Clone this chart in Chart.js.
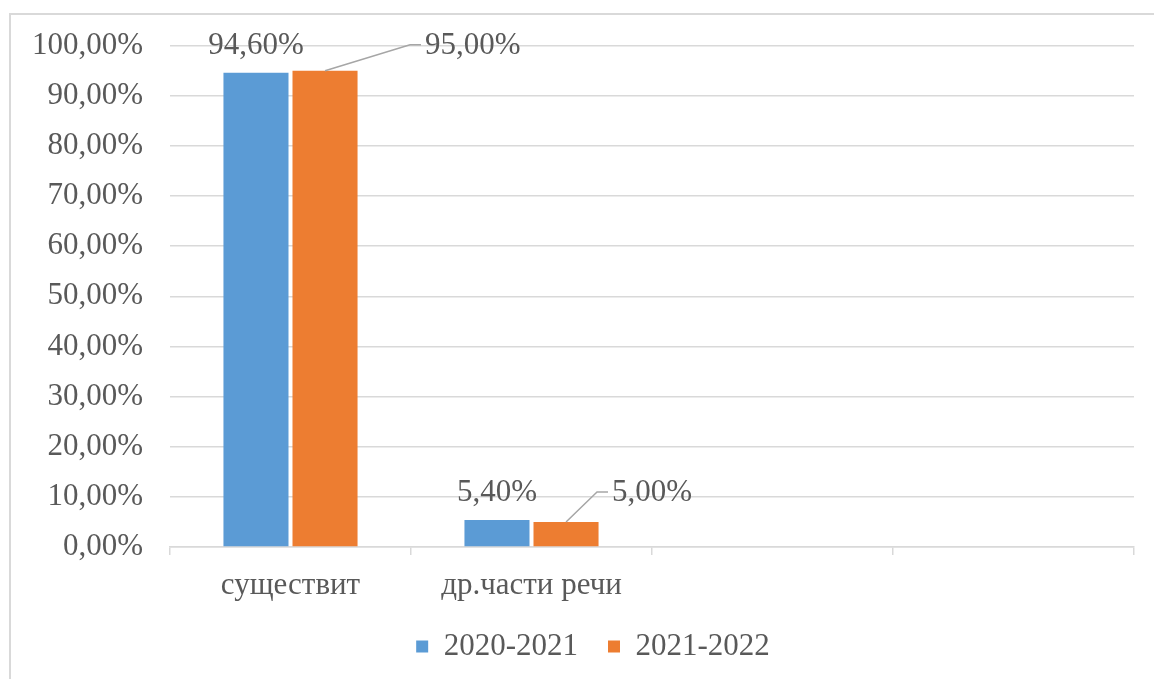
<!DOCTYPE html>
<html>
<head>
<meta charset="utf-8">
<script src="https://cdn.jsdelivr.net/npm/chart.js@4"></script>
<style>
  html, body { margin: 0; padding: 0; background: #fff; }
  #wrap { width: 1154px; height: 679px; }
</style>
</head>
<body>
<div id="wrap"><canvas id="myBarChart" width="1154" height="679"></canvas></div>
<script>
const categories = ['существит', 'др.части речи', '', ''];
const seriesNames = ['2020-2021', '2021-2022'];
const values2020 = [94.6, 5.4, null, null];
const values2021 = [95.0, 5.0, null, null];
const yTicks = [0, 10, 20, 30, 40, 50, 60, 70, 80, 90, 100];

const serif = '"Liberation Serif", "Times New Roman", serif';
const textColor = '#595959';
const gridColor = '#d9d9d9';
const fontSize = 31;

function pct(v) {
    return v.toFixed(2).replace('.', ',') + '%';
}

// outer frame like the one around the Word chart
const framePlugin = {
    id: 'frame',
    beforeDraw(chart) {
        const c = chart.ctx;
        c.save();
        c.strokeStyle = gridColor;
        c.lineWidth = 2;
        c.beginPath();
        c.moveTo(10, 679);
        c.lineTo(10, 14);
        c.lineTo(1154, 14);
        c.stroke();
        c.restore();
    }
};

// keep the legend row short even with wide gaps between items,
// and centre it a bit further right like in the original
const legendFitPlugin = {
    id: 'legendFit',
    beforeInit(chart) {
        const legend = chart.legend;
        const fit = legend.fit;
        legend.fit = function () {
            fit.call(this);
            this.height = 56;
        };
    },
    afterLayout(chart) {
        chart.legend.left = 52;
    }
};

// value labels: first series above the bar, second one with a leader line
const leaderOffsets = [[85, 26], [31, 30]];
const labelPlugin = {
    id: 'valueLabels',
    afterDatasetsDraw(chart) {
        const c = chart.ctx;
        c.save();
        c.font = fontSize + 'px ' + serif;
        c.fillStyle = textColor;
        c.textBaseline = 'middle';

        chart.getDatasetMeta(0).data.forEach((bar, i) => {
            const v = chart.data.datasets[0].data[i];
            if (v == null) return;
            c.textAlign = 'center';
            c.fillText(pct(v), bar.x, bar.y - 27);
        });

        chart.getDatasetMeta(1).data.forEach((bar, i) => {
            const v = chart.data.datasets[1].data[i];
            if (v == null) return;
            const [dx, dy] = leaderOffsets[i];
            c.strokeStyle = '#a6a6a6';
            c.lineWidth = 1.5;
            c.beginPath();
            c.moveTo(bar.x, bar.y);
            c.lineTo(bar.x + dx, bar.y - dy);
            c.lineTo(bar.x + dx + 11, bar.y - dy);
            c.stroke();
            c.textAlign = 'left';
            c.fillText(pct(v), bar.x + dx + 15, bar.y - dy + 1);
        });
        c.restore();
    }
};

const barCtx = document.getElementById('myBarChart').getContext('2d');

const myBarChart = new Chart(barCtx, {
    type: 'bar',
    data: {
        labels: categories,
        datasets: [{
            label: seriesNames[0],
            data: values2020,
            backgroundColor: '#5b9bd5'
        }, {
            label: seriesNames[1],
            data: values2021,
            backgroundColor: '#ed7d31'
        }]
    },
    options: {
        responsive: false,
        maintainAspectRatio: false,
        animation: false,
        categoryPercentage: 0.573,
        barPercentage: 0.942,
        layout: {
            padding: { left: 0, right: 20, top: 45, bottom: 22 }
        },
        scales: {
            x: {
                grid: {
                    display: true,
                    drawOnChartArea: false,
                    drawTicks: true,
                    tickLength: 8,
                    color: gridColor,
                    lineWidth: 1.5
                },
                border: { display: true, color: gridColor, width: 1.5 },
                ticks: {
                    color: textColor,
                    font: { family: serif, size: fontSize },
                    padding: 12,
                    maxRotation: 0,
                    autoSkip: false
                },
                afterFit: s => { s.height = 54; }
            },
            y: {
                min: 0,
                max: 100,
                afterBuildTicks: s => { s.ticks = yTicks.map(v => ({ value: v })); },
                grid: {
                    color: gridColor,
                    lineWidth: 1.5,
                    drawTicks: false
                },
                border: { display: false },
                ticks: {
                    color: textColor,
                    font: { family: serif, size: fontSize },
                    padding: 27,
                    callback: v => pct(v)
                },
                afterFit: s => { s.width = 170; }
            }
        },
        plugins: {
            legend: {
                position: 'bottom',
                labels: {
                    color: textColor,
                    font: { family: serif, size: fontSize },
                    boxWidth: 12,
                    boxHeight: 12,
                    padding: 30
                }
            },
            tooltip: { enabled: false }
        }
    },
    plugins: [framePlugin, legendFitPlugin, labelPlugin]
});
</script>
</body>
</html>
